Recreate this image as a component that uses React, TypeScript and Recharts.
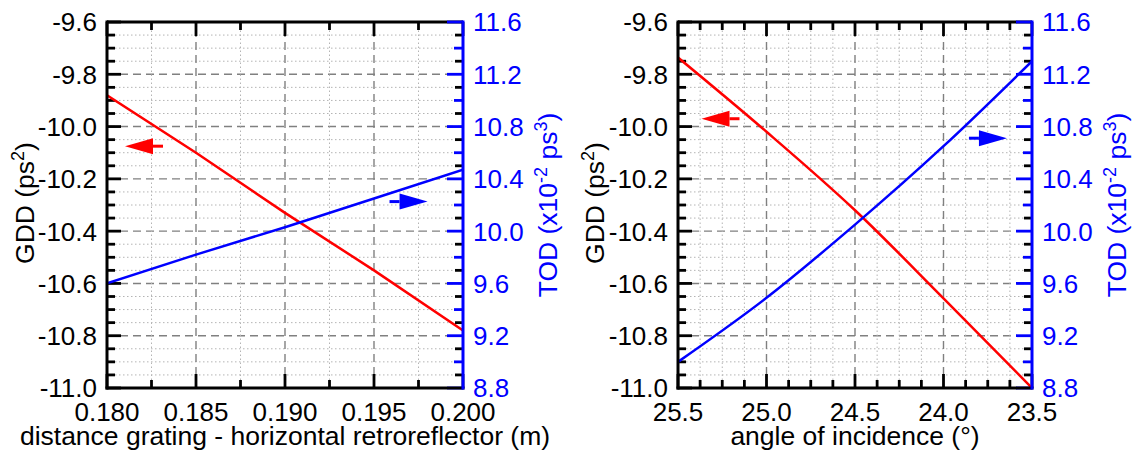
import React from 'react';
import {
  ComposedChart,
  Line,
  XAxis,
  YAxis,
  ReferenceDot,
  ReferenceLine,
} from 'recharts';

const FONT = '"Liberation Sans", Arial, Helvetica, sans-serif';
const RED = '#ff0000';
const BLUE = '#0000ff';
const TICK_FONT = 26;
const TITLE_FONT = 26.5;

// distance grating - horizontal retroreflector (m)
const distance = [0.18, 0.185, 0.19, 0.195, 0.2];
const gddDistance = [-9.88, -10.1, -10.33, -10.55, -10.78];
const todDistance = [9.6, 9.82, 10.03, 10.25, 10.47];

// angle of incidence (deg)
const angle = [25.5, 25.0, 24.5, 24.0, 23.5];
const gddAngle = [-9.736, -10.02, -10.32, -10.657, -11.0];
const todAngle = [9.0, 9.49, 10.05, 10.65, 11.3];

// axis ranges
const gddRange = [-11.0, -9.6];
const todRange = [8.8, 11.6];
const distanceRange = [0.18, 0.2];
const angleRange = [23.5, 25.5];

// evenly spaced tick values (major + minor) between two ends
function steps(from: number, to: number, n: number) {
  const out: number[] = [];
  for (let i = 0; i <= n; i++) out.push(+(from + ((to - from) * i) / n).toFixed(6));
  return out;
}

const gddTicks = steps(-11.0, -9.6, 28); // every 0.05, labels every 0.2
const todTicks = steps(8.8, 11.6, 28); // every 0.1, labels every 0.4
const distanceTicks = steps(0.18, 0.2, 8); // every 0.0025, labels every 0.005
const angleTicks = steps(25.5, 23.5, 16); // every 0.125, labels every 0.5

const CHART_H = 465;
const TOP = 22;
const X_AXIS_H = 77;
const M = 10; // label gap on the y axes
const MB = 14; // label gap on the x axis
const TW = 2.8; // tick stroke width

// tick labels only; tick marks and grid are reference segments
const leftLabel = (every: number) => (p: any) => {
  const { x, y, index, payload } = p;
  if (index % every !== 0) return <g />;
  return (
    <text x={x} y={y} dy="0.36em" textAnchor="end" fontSize={TICK_FONT} fontFamily={FONT} fill="#000">
      {Number(payload.value).toFixed(1)}
    </text>
  );
};

const rightLabel = (every: number) => (p: any) => {
  const { x, y, index, payload } = p;
  if (index % every !== 0) return <g />;
  return (
    <text x={x} y={y} dy="0.36em" textAnchor="start" fontSize={TICK_FONT} fontFamily={FONT} fill={BLUE}>
      {Number(payload.value).toFixed(1)}
    </text>
  );
};

const bottomLabel = (every: number, digits: number) => (p: any) => {
  const { x, y, index, payload } = p;
  if (index % every !== 0) return <g />;
  return (
    <text x={x} y={y} dy="0.72em" textAnchor="middle" fontSize={TICK_FONT} fontFamily={FONT} fill="#000">
      {Number(payload.value).toFixed(digits)}
    </text>
  );
};

const gddTitle = (p: any) => {
  const { viewBox } = p;
  const cx = viewBox.x + 24;
  const cy = viewBox.y + viewBox.height / 2 - 2;
  return (
    <text x={cx} y={cy} dy="0.36em" textAnchor="middle" transform={`rotate(-90 ${cx} ${cy})`}
      fontSize={TITLE_FONT} fontFamily={FONT} fill="#000">
      GDD (ps<tspan dy={-10} fontSize={18}>2</tspan><tspan dy={10}>)</tspan>
    </text>
  );
};

const todTitle = (p: any) => {
  const { viewBox } = p;
  const cx = viewBox.x + 84;
  const cy = viewBox.y + viewBox.height / 2;
  return (
    <text x={cx} y={cy} dy="0.36em" textAnchor="middle" transform={`rotate(-90 ${cx} ${cy})`}
      fontSize={TITLE_FONT} fontFamily={FONT} fill={BLUE}>
      TOD (x10<tspan dy={-10} fontSize={18}>-2</tspan><tspan dy={10}> ps</tspan>
      <tspan dy={-10} fontSize={18}>3</tspan><tspan dy={10}>)</tspan>
    </text>
  );
};

const xTitle = (text: string) => (p: any) => {
  const { viewBox } = p;
  return (
    <text x={viewBox.x + viewBox.width / 2} y={viewBox.y + 57} textAnchor="middle"
      fontSize={TITLE_FONT} fontFamily={FONT} fill="#000">
      {text}
    </text>
  );
};

// filled arrow head with a short tail; dir -1 points left, +1 points right
const arrow = (color: string, dir: number) => (p: any) => {
  const { cx, cy } = p;
  const tip = cx + dir * 19;
  const back = cx - dir * 9;
  const tail = cx - dir * 19;
  return (
    <g>
      <line x1={back} x2={tail} y1={cy} y2={cy} stroke={color} strokeWidth={3} />
      <polygon points={`${tip},${cy} ${back},${cy - 8} ${back},${cy + 8}`} fill={color} />
    </g>
  );
};

type PanelProps = {
  left: number;
  width: number;
  gddWidth: number;
  todWidth: number;
  xs: number[];
  gdd: number[];
  tod: number[];
  xRange: number[];
  xTicks: number[];
  xEvery: number;
  xDigits: number;
  reversed: boolean;
  title: string;
  curve: 'linear' | 'monotone';
  redArrow: { x: number; y: number };
  blueArrow: { x: number; y: number };
};

function Panel(props: PanelProps) {
  const { xs, gdd, tod, xTicks, xEvery, xRange, reversed } = props;
  const data = xs.map((x, i) => ({ x, gdd: gdd[i], tod: tod[i] }));
  const axisLine = { stroke: '#000', strokeWidth: 3, strokeLinecap: 'square' as const };

  // data units per pixel, so tick lengths can be given in pixels
  const plotW = props.width - props.gddWidth - props.todWidth;
  const plotH = CHART_H - TOP - X_AXIS_H;
  const xPx = (xRange[1] - xRange[0]) / plotW;
  const gddPx = (gddRange[1] - gddRange[0]) / plotH;
  const xLeft = reversed ? xRange[1] : xRange[0];
  const xRight = reversed ? xRange[0] : xRange[1];
  const inward = reversed ? -1 : 1;

  const seg = (key: string, a: any, b: any, color: string, yAxisId: string) => (
    <ReferenceLine key={key} xAxisId="x" yAxisId={yAxisId} segment={[a, b]} stroke={color}
      strokeWidth={TW} ifOverflow="visible" />
  );

  // dotted minor / dashed major grid
  const grid: React.ReactNode[] = [];
  gddTicks.slice(1, -1).forEach((v, k) => {
    const major = (k + 1) % 4 === 0;
    grid.push(
      <ReferenceLine key={`gy${k}`} xAxisId="x" yAxisId="gdd" y={v} ifOverflow="visible"
        stroke={major ? '#808080' : '#b4b4b4'} strokeWidth={major ? 1.4 : 1}
        strokeDasharray={major ? '8 5' : '1.5 2.5'} />
    );
  });
  xTicks.slice(1, -1).forEach((v, k) => {
    const major = (k + 1) % xEvery === 0;
    grid.push(
      <ReferenceLine key={`gx${k}`} xAxisId="x" yAxisId="gdd" x={v} ifOverflow="visible"
        stroke={major ? '#808080' : '#b4b4b4'} strokeWidth={major ? 1.4 : 1}
        strokeDasharray={major ? '8 5' : '1.5 2.5'} />
    );
  });

  // inward tick marks on all four sides
  const marks: React.ReactNode[] = [];
  gddTicks.forEach((v, i) => {
    const len = (i % 4 === 0 ? 14 : 8) * xPx;
    marks.push(seg(`l${i}`, { x: xLeft, y: v }, { x: xLeft + inward * len, y: v }, '#000', 'gdd'));
  });
  todTicks.forEach((v, i) => {
    const blue = i % 2 === 0;
    const len = (i % 4 === 0 ? 16 : blue ? 9 : 8) * xPx;
    marks.push(seg(`r${i}`, { x: xRight, y: v }, { x: xRight - inward * len, y: v }, blue ? BLUE : '#000', 'tod'));
  });
  xTicks.forEach((v, i) => {
    const len = (i % xEvery === 0 ? 14 : 8) * gddPx;
    marks.push(seg(`b${i}`, { x: v, y: gddRange[0] }, { x: v, y: gddRange[0] + len }, '#000', 'gdd'));
    marks.push(seg(`t${i}`, { x: v, y: gddRange[1] }, { x: v, y: gddRange[1] - len }, '#000', 'gdd'));
  });

  return (
    <div style={{ position: 'absolute', left: props.left, top: 0 }}>
      <ComposedChart width={props.width} height={CHART_H} data={data}
        margin={{ top: TOP, right: 0, bottom: 0, left: 0 }}>
        <XAxis xAxisId="x" dataKey="x" type="number" domain={xRange} allowDataOverflow
          reversed={reversed} ticks={xTicks} interval={0} height={X_AXIS_H} tickSize={0} tickMargin={MB}
          tickLine={false} axisLine={axisLine} tick={bottomLabel(xEvery, props.xDigits)}
          label={xTitle(props.title)} />
        <YAxis yAxisId="gdd" type="number" domain={gddRange} allowDataOverflow ticks={gddTicks} interval={0}
          width={props.gddWidth} tickSize={0} tickMargin={M} tickLine={false}
          axisLine={axisLine} tick={leftLabel(4)} label={gddTitle} />
        <YAxis yAxisId="tod" orientation="right" type="number" domain={todRange} allowDataOverflow
          ticks={todTicks} interval={0} width={props.todWidth} tickSize={0} tickMargin={M} tickLine={false}
          axisLine={{ ...axisLine, stroke: BLUE }} tick={rightLabel(4)} label={todTitle} />

        {grid}

        {/* frame top edge */}
        <ReferenceLine xAxisId="x" yAxisId="gdd" y={gddRange[1]} stroke="#000" strokeWidth={3} ifOverflow="visible" />

        {marks}

        <Line xAxisId="x" yAxisId="gdd" dataKey="gdd" type={props.curve} stroke={RED} strokeWidth={2.5}
          dot={false} isAnimationActive={false} />
        <Line xAxisId="x" yAxisId="tod" dataKey="tod" type={props.curve} stroke={BLUE} strokeWidth={2.5}
          dot={false} isAnimationActive={false} />

        <ReferenceDot xAxisId="x" yAxisId="gdd" x={props.redArrow.x} y={props.redArrow.y}
          shape={arrow(RED, -1)} />
        <ReferenceDot xAxisId="x" yAxisId="tod" x={props.blueArrow.x} y={props.blueArrow.y}
          shape={arrow(BLUE, 1)} />
      </ComposedChart>
    </div>
  );
}

export default function App() {
  return (
    <div style={{ position: 'absolute', left: 0, top: 0, width: 1134, height: 465, background: '#fff' }}>
      <Panel left={0} width={570} gddWidth={107} todWidth={107}
        xs={distance} gdd={gddDistance} tod={todDistance}
        xRange={distanceRange} xTicks={distanceTicks} xEvery={2} xDigits={3} reversed={false}
        title="distance grating - horizontal retroreflector (m)" curve="linear"
        redArrow={{ x: 0.18208, y: -10.075 }} blueArrow={{ x: 0.19694, y: 10.226 }} />
      <Panel left={570} width={564} gddWidth={108} todWidth={102}
        xs={angle} gdd={gddAngle} tod={todAngle}
        xRange={angleRange} xTicks={angleTicks} xEvery={4} xDigits={1} reversed={true}
        title="angle of incidence (°)" curve="monotone"
        redArrow={{ x: 25.26, y: -9.97 }} blueArrow={{ x: 23.749, y: 10.711 }} />
    </div>
  );
}
